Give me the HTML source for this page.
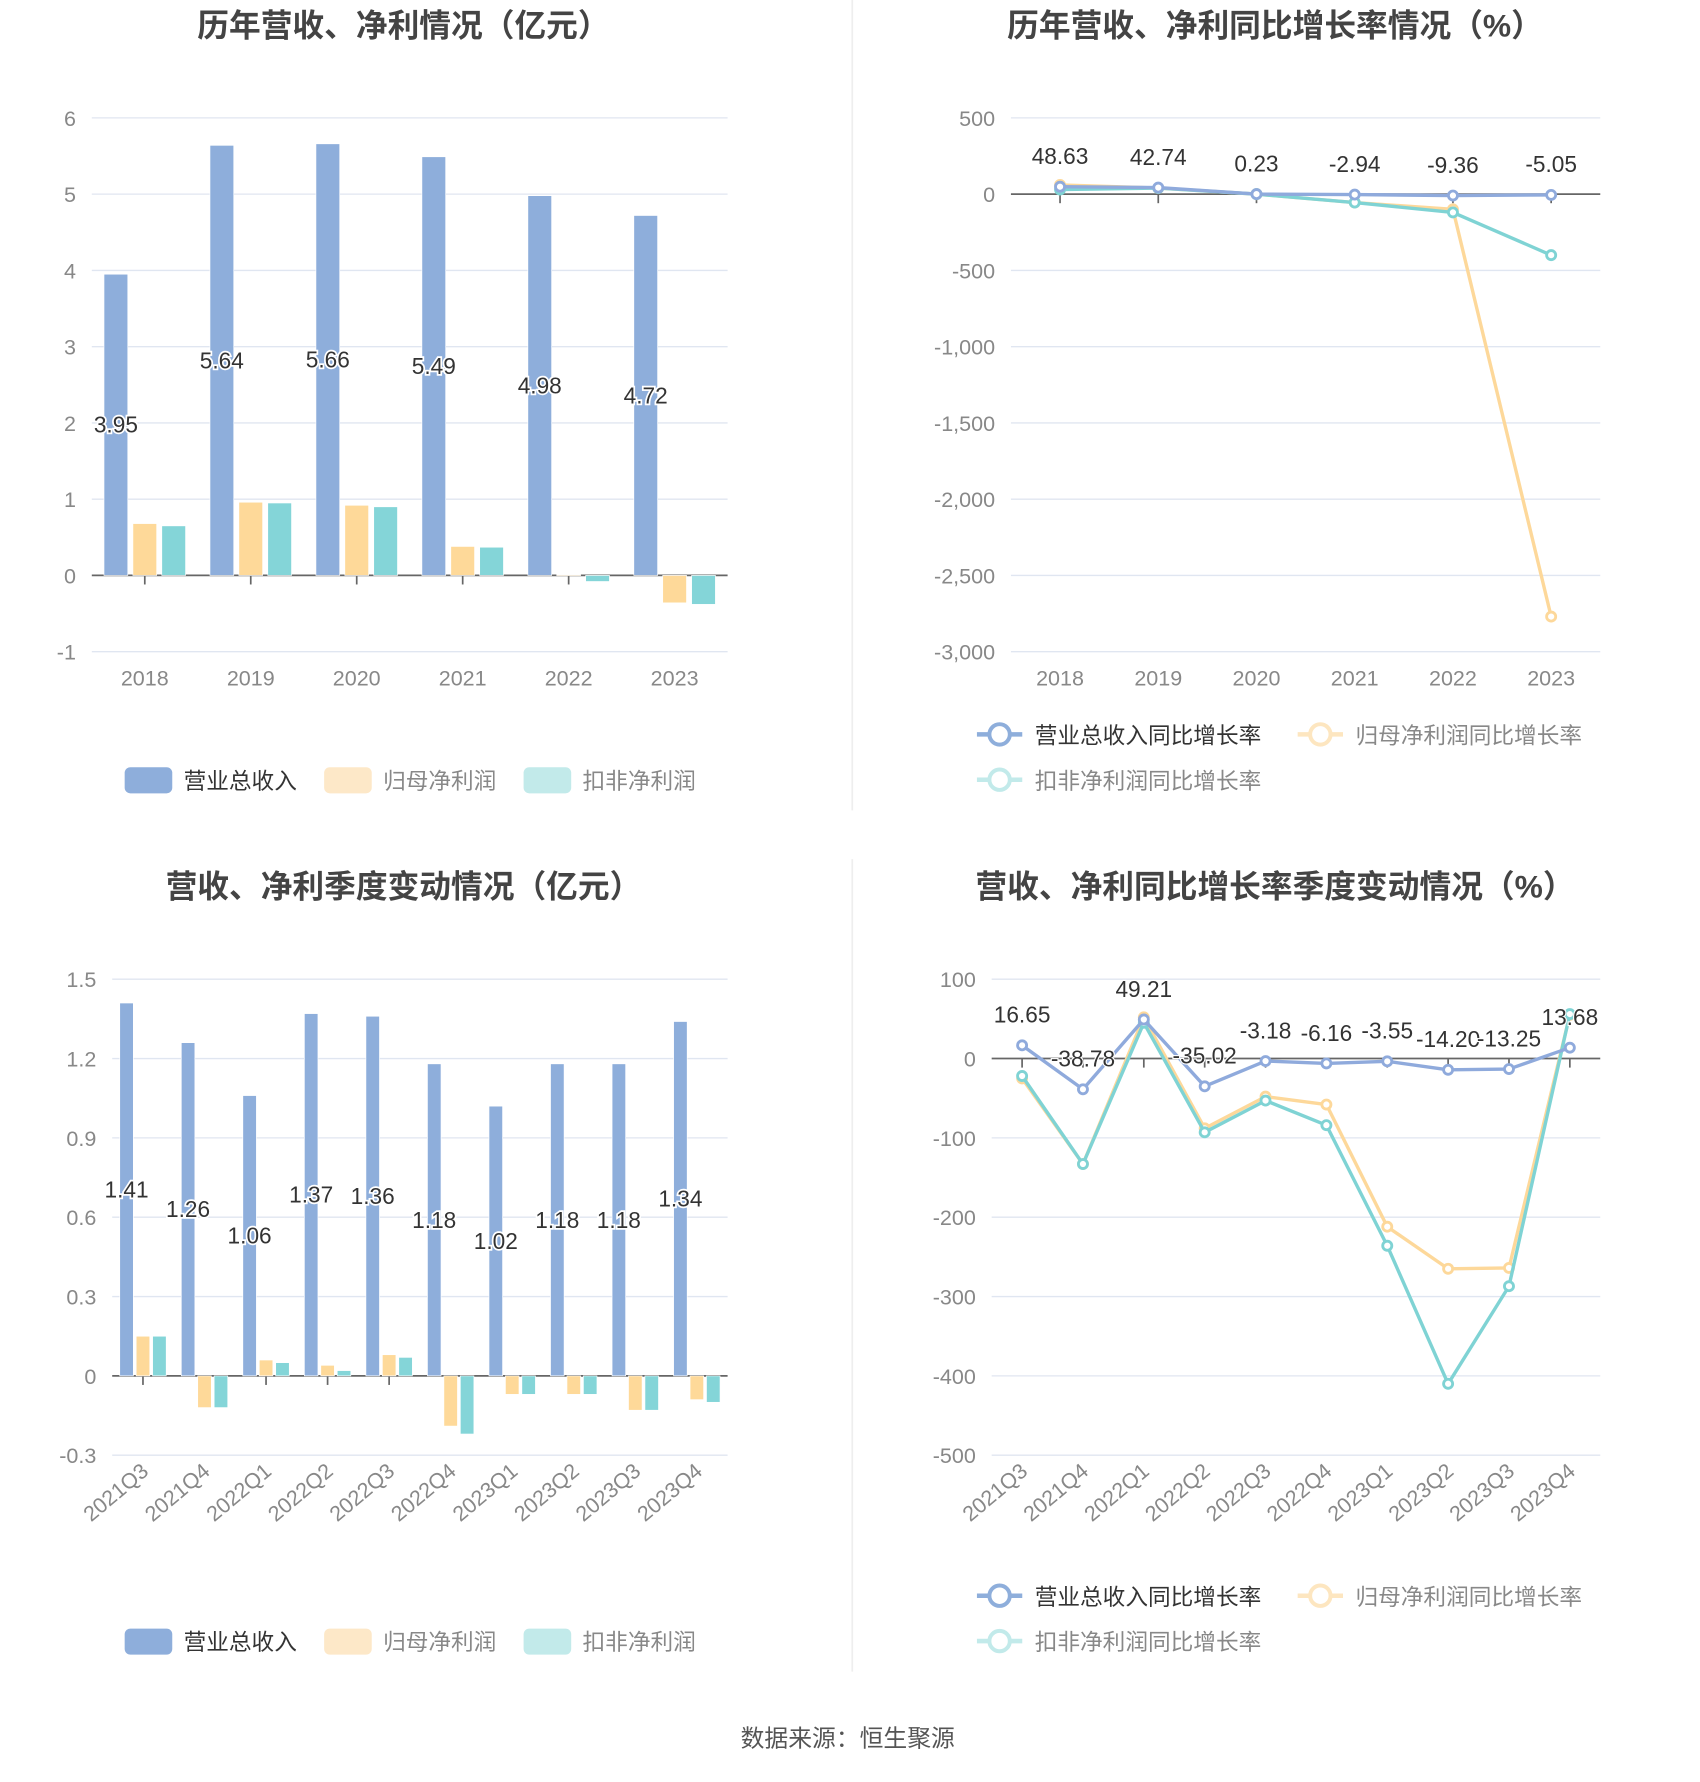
<!DOCTYPE html>
<html><head><meta charset="utf-8"><style>
html,body{margin:0;padding:0;background:#fff;}
svg{display:block;font-family:"Liberation Sans","Noto Sans CJK SC",sans-serif;}
</style></head><body>
<svg id="root" width="1700" height="1782" viewBox="0 0 1500 1572.35" xmlns="http://www.w3.org/2000/svg">
<rect width="1500" height="1573" fill="#fff"/>
<line x1="752" y1="0" x2="752" y2="715" stroke="#eee" stroke-width="1.5"/>
<line x1="752" y1="758" x2="752" y2="1475" stroke="#eee" stroke-width="1.5"/>
<text x="356" y="32" text-anchor="middle" font-size="28" font-weight="bold" fill="#444">历年营收、净利情况（亿元）</text>
<text x="1125" y="32" text-anchor="middle" font-size="28" font-weight="bold" fill="#444">历年营收、净利同比增长率情况（%）</text>
<text x="356" y="792" text-anchor="middle" font-size="28" font-weight="bold" fill="#444">营收、净利季度变动情况（亿元）</text>
<text x="1125" y="792" text-anchor="middle" font-size="28" font-weight="bold" fill="#444">营收、净利同比增长率季度变动情况（%）</text>
<text x="748" y="1541" text-anchor="middle" font-size="21" fill="#555">数据来源：恒生聚源</text>
<g id="c1"></g>
<g id="c2"></g>
<g id="c3"></g>
<g id="c4"></g>
</svg>
<script>
const years = ["2018","2019","2020","2021","2022","2023"];
const annualRevenue = [3.95,5.64,5.66,5.49,4.98,4.72];
const annualNetProfit = [0.68,0.96,0.92,0.38,0.01,-0.36];
const annualDeducted = [0.65,0.95,0.90,0.37,-0.08,-0.38];
const annualTicks = [6,5,4,3,2,1,0,-1];
const revGrowth = [48.63,42.74,0.23,-2.94,-9.36,-5.05];
const netGrowth = [60,40,0,-55,-100,-2770];
const dedGrowth = [30,40,0,-55,-120,-400];
const growthTicks = [500,0,-500,-1000,-1500,-2000,-2500,-3000];
const growthTickLabels = ["500","0","-500","-1,000","-1,500","-2,000","-2,500","-3,000"];
const quarters = ["2021Q3","2021Q4","2022Q1","2022Q2","2022Q3","2022Q4","2023Q1","2023Q2","2023Q3","2023Q4"];
const qRevenue = [1.41,1.26,1.06,1.37,1.36,1.18,1.02,1.18,1.18,1.34];
const qNetProfit = [0.15,-0.12,0.06,0.04,0.08,-0.19,-0.07,-0.07,-0.13,-0.09];
const qDeducted = [0.15,-0.12,0.05,0.02,0.07,-0.22,-0.07,-0.07,-0.13,-0.10];
const qTicks = [1.5,1.2,0.9,0.6,0.3,0,-0.3];
const qRevGrowth = [16.65,-38.78,49.21,-35.02,-3.18,-6.16,-3.55,-14.20,-13.25,13.68];
const qNetGrowth = [-25,-133,52,-88,-48,-58,-212,-265,-264,55];
const qDedGrowth = [-22,-133,45,-93,-53,-84,-236,-410,-287,56];
const qGrowthTicks = [100,0,-100,-200,-300,-400,-500];

const NS="http://www.w3.org/2000/svg";
const BLUE="#8eaedb",ORANGE="#fed999",TEAL="#84d5d8";
function mk(parent,tag,attrs,text){const e=document.createElementNS(NS,tag);for(const k in attrs)e.setAttribute(k,attrs[k]);if(text!==undefined)e.textContent=text;parent.appendChild(e);return e;}
function fmt(v){return v.toFixed(2);}

function axes(g,L,R,yScale,ticks,labels,cats,xScale,rotate,tickLen){
  ticks.forEach((t,i)=>{
    const y=yScale(t);
    const gl=mk(g,'line',{x1:L,x2:R,y1:y,y2:y,stroke:t===0?'#666':'#e0e6f1','stroke-width':t===0?1.5:1.2});
    
    
    const tl=mk(g,'text',{x:L-14,y:y+7,'text-anchor':'end','font-size':19,fill:'#888'},labels?labels[i]:String(t));
    
    
  });
  const y0=yScale(0);
  cats.forEach((c,i)=>{
    const x=xScale(i);
    const tk=mk(g,'line',{x1:x,x2:x,y1:y0,y2:y0+8,stroke:'#666','stroke-width':1.5});
    
    
  });
}
function xLabels(g,cats,xScale,y,rotate){
  cats.forEach((c,i)=>{
    const x=xScale(i);
    let t;
    if(rotate){t=mk(g,'text',{x:x+6,y:y,'text-anchor':'end','font-size':19,fill:'#888',transform:`rotate(-40 ${x+6} ${y})`},c);}
    else t=mk(g,'text',{x:x,y:y,'text-anchor':'middle','font-size':19,fill:'#888'},c);
    
    
  });
}
function barLegend(g,y){
  const items=[["营业总收入","#8eaedb","#333"],["归母净利润","#fde8c8","#888"],["扣非净利润","#c2eaea","#888"]];
  const xs=[110,286,462];
  items.forEach((it,i)=>{
    const r=mk(g,'rect',{x:xs[i],y:y-11,width:42,height:23,rx:5,fill:it[1]});
    
    
    const t=mk(g,'text',{x:xs[i]+52,y:y+8,'font-size':20,fill:it[2]},it[0]);
    
    
  });
}
function lineLegend(g,y){
  const items=[["营业总收入同比增长率","#8eaedb","#333",862,y],["归母净利润同比增长率","#fde6c0","#888",1145,y],["扣非净利润同比增长率","#c2eaea","#888",862,y+40]];
  items.forEach(it=>{
    const l=mk(g,'line',{x1:it[3],x2:it[3]+40,y1:it[4],y2:it[4],stroke:it[1],'stroke-width':4});
    
    
    const c=mk(g,'circle',{cx:it[3]+20,cy:it[4],r:9,fill:'#fff',stroke:it[1],'stroke-width':3.5});
    
    
    const t=mk(g,'text',{x:it[3]+51,y:it[4]+8,'font-size':20,fill:it[2]},it[0]);
    
    
  });
}
function barChart(g,cats,series,ticks,L,R,yTop,vTop,yBot,vBot,bw,sp,rotate){
  const yScale=v=>yTop+(vTop-v)*(yBot-yTop)/(vTop-vBot);
  const step=(R-L)/cats.length;
  const xScale=i=>L+step*(i+0.5);
  axes(g,L,R,yScale,ticks,null,cats,xScale,rotate);
  const cols=[BLUE,ORANGE,TEAL];
  const names=['bar-revenue','bar-net-profit','bar-deducted-profit'];
  series.forEach((s,si)=>{
    s.forEach((v,i)=>{
      const cx=xScale(i)+(si-1)*sp;
      const y0=yScale(0),y1=yScale(v);
      const r=mk(g,'rect',{x:cx-bw/2,y:Math.min(y0,y1),width:bw,height:Math.max(Math.abs(y1-y0),0.8),fill:cols[si],stroke:'#fff','stroke-width':0.6});
      
      
    });
  });
  series[0].forEach((v,i)=>{
    const cx=xScale(i)-sp;
    const y=yScale(v/2)+7;
    const t=mk(g,'text',{x:cx,y:y,'text-anchor':'middle','font-size':20,fill:'#333',stroke:'#fff','stroke-width':3,'paint-order':'stroke'},fmt(v));
    
    
  });
  return xScale;
}
function lineChart(g,cats,series,ticks,labels,L,R,yTop,vTop,yBot,vBot,rotate){
  const yScale=v=>yTop+(vTop-v)*(yBot-yTop)/(vTop-vBot);
  const step=(R-L)/cats.length;
  const xScale=i=>L+step*(i+0.5);
  axes(g,L,R,yScale,ticks,labels,cats,xScale,rotate);
  const cols=["#fdd89a","#7fd3d4","#8faadc"];
  const order=[1,2,0];
  const names=['line-revenue-growth','line-net-profit-growth','line-deducted-growth'];
  order.forEach(si=>{
    const s=series[si];
    const col=si===0?"#8faadc":si===1?"#fdd89a":"#7fd3d4";
    const p=mk(g,'polyline',{points:s.map((v,i)=>xScale(i)+','+yScale(v)).join(' '),fill:'none',stroke:col,'stroke-width':3,'stroke-linejoin':'round'});
    
    
    s.forEach((v,i)=>{
      const c=mk(g,'circle',{cx:xScale(i),cy:yScale(v),r:4,fill:'#fff',stroke:col,'stroke-width':2.5});
      
      
    });
  });
  series[0].forEach((v,i)=>{
    const t=mk(g,'text',{x:xScale(i),y:yScale(v)-20,'text-anchor':'middle','font-size':20,fill:'#333',stroke:'#fff','stroke-width':2,'paint-order':'stroke'},fmt(v));
    
    
  });
  return xScale;
}
const c1=document.getElementById('c1'),c2=document.getElementById('c2'),c3=document.getElementById('c3'),c4=document.getElementById('c4');
const x1=barChart(c1,years,[annualRevenue,annualNetProfit,annualDeducted],annualTicks,81,642,104,6,575,-1,21,25.5,false);
xLabels(c1,years,x1,605,false);
barLegend(c1,688);
const x2=lineChart(c2,years,[revGrowth,netGrowth,dedGrowth],growthTicks,growthTickLabels,892,1412,104,500,575,-3000,false);
xLabels(c2,years,x2,605,false);
lineLegend(c2,648);
const x3=barChart(c3,quarters,[qRevenue,qNetProfit,qDeducted],qTicks,99,642,864,1.5,1284,-0.3,12,14.5,true);
xLabels(c3,quarters,x3,1300,true);
barLegend(c3,1448);
const x4=lineChart(c4,quarters,[qRevGrowth,qNetGrowth,qDedGrowth],qGrowthTicks,null,875,1412,864,100,1284,-500,true);
xLabels(c4,quarters,x4,1300,true);
lineLegend(c4,1408);
</script>
</body></html>
